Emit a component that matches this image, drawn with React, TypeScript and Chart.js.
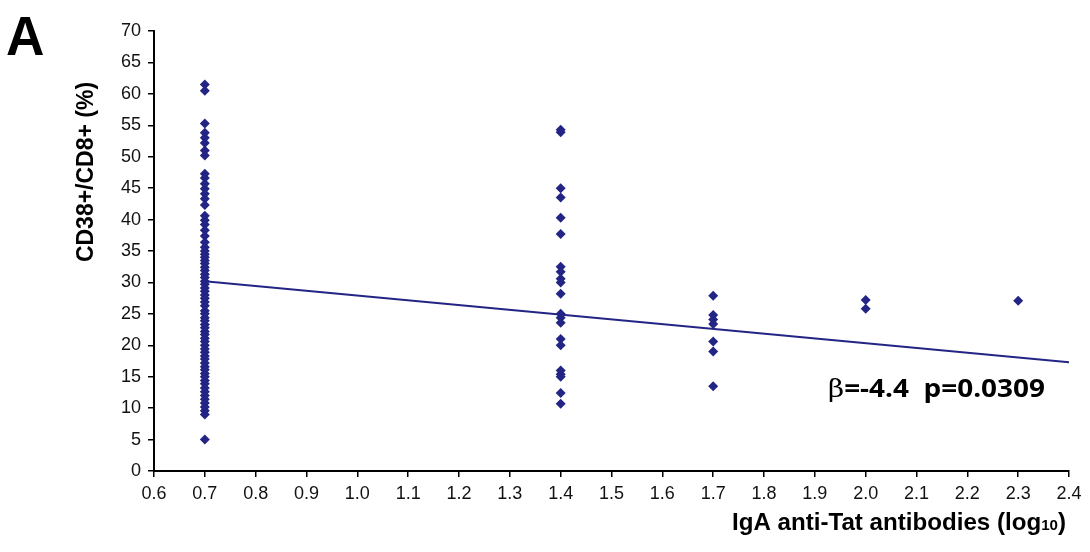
import React, { useEffect, useRef } from "react";
import { Chart, registerables } from "chart.js";

Chart.register(...registerables);

// ---- data ----
const X_TICKS = [0.6, 0.7, 0.8, 0.9, 1.0, 1.1, 1.2, 1.3, 1.4, 1.5, 1.6, 1.7, 1.8, 1.9, 2.0, 2.1, 2.2, 2.3, 2.4];
const Y_TICKS = [0, 5, 10, 15, 20, 25, 30, 35, 40, 45, 50, 55, 60, 65, 70];

const X_LEVELS = [0.7, 1.4, 1.7, 2.0, 2.3];

const Y_07 = [
  61.5, 60.5, 55.3, 53.8, 53.0, 52.2, 51.0, 50.2, 47.3, 46.6, 45.7, 44.9, 44.1, 43.3, 42.3,
  40.6, 39.9, 39.2, 38.3, 37.4, 36.4, 35.6, 35.0, 34.5, 34.0, 33.5, 33.0, 32.4, 31.9, 31.3,
  30.8, 30.2, 29.7, 29.1, 28.6, 28.0, 27.5, 26.9, 26.3, 25.5, 25.0, 24.4, 23.9, 23.3, 22.8,
  22.2, 21.7, 21.1, 20.6, 20.0, 19.4, 18.9, 18.3, 17.8, 17.2, 16.6, 16.1, 15.5, 15.0, 14.4,
  13.9, 13.2, 12.6, 12.0, 11.4, 10.8, 10.2, 9.6, 9.0, 5.0,
];
const Y_14 = [54.3, 53.9, 45.0, 43.5, 40.3, 37.7, 32.5, 31.7, 30.6, 30.0, 28.2, 25.0, 24.4, 23.6, 21.0, 20.0, 16.0, 15.4, 15.0, 12.4, 10.7];
const Y_17 = [27.9, 24.8, 24.1, 23.4, 20.6, 19.0, 13.5];
const Y_20 = [27.2, 25.8];
const Y_23 = [27.1];

const TREND_X = [0.7, 2.4];
const TREND_Y = [30.2, 17.3];

const PANEL_LABEL = "A";
const Y_TITLE = "CD38+/CD8+ (%)";
const X_TITLE_MAIN = "IgA anti-Tat antibodies (log";
const X_TITLE_SUB = "10";
const X_TITLE_END = ")";
const STAT_BETA = "β";
const STAT_TEXT = "=-4.4  p=0.0309";

const NAVY = "#232585";

const overlayPlugin = {
  id: "overlay",
  afterDraw(chart: any) {
    const ctx = chart.ctx as CanvasRenderingContext2D;
    ctx.save();
    ctx.fillStyle = "#000";
    // Panel letter
    ctx.font = "bold 56px 'Liberation Sans', Arial, sans-serif";
    ctx.textAlign = "left";
    ctx.textBaseline = "alphabetic";
    ctx.save();
    ctx.translate(6, 55);
    ctx.scale(0.95, 1);
    ctx.fillText(PANEL_LABEL, 0, 0);
    ctx.restore();

    // Y title (rotated)
    ctx.save();
    ctx.translate(93, 172);
    ctx.rotate(-Math.PI / 2);
    ctx.font = "bold 23px 'Liberation Sans', Arial, sans-serif";
    ctx.textAlign = "center";
    ctx.textBaseline = "alphabetic";
    ctx.fillText(Y_TITLE, 0, 0);
    ctx.restore();

    // X title, right aligned, with subscript
    const mainFont = "bold 24px 'Liberation Sans', sans-serif";
    const subFont = "bold 15px 'Liberation Sans', sans-serif";
    ctx.font = mainFont;
    const wMain = ctx.measureText(X_TITLE_MAIN).width;
    const wEnd = ctx.measureText(X_TITLE_END).width;
    ctx.font = subFont;
    const wSub = ctx.measureText(X_TITLE_SUB).width;
    const total = wMain + wSub + wEnd;
    const targetW = 334;
    const right = 1066;
    const sx = targetW / total;
    const baseY = 530;
    ctx.save();
    ctx.translate(right - targetW, baseY);
    ctx.scale(sx, 1);
    ctx.textAlign = "left";
    ctx.font = mainFont;
    ctx.fillText(X_TITLE_MAIN, 0, 0);
    ctx.font = subFont;
    ctx.fillText(X_TITLE_SUB, wMain, 0);
    ctx.font = mainFont;
    ctx.fillText(X_TITLE_END, wMain + wSub, 0);
    ctx.restore();

    // Statistics annotation
    const statFont = "bold 25px 'Open Sans', 'Liberation Sans', sans-serif";
    const betaFont = "25px 'DejaVu Serif', serif";
    ctx.font = betaFont;
    const wBeta = ctx.measureText(STAT_BETA).width;
    ctx.font = statFont;
    const wStat = ctx.measureText(STAT_TEXT).width;
    const statTarget = 217;
    const ssx = statTarget / (wBeta + wStat);
    ctx.save();
    ctx.translate(828, 397);
    ctx.scale(ssx, 1);
    ctx.textAlign = "left";
    ctx.font = betaFont;
    ctx.fillText(STAT_BETA, 0, 0);
    ctx.font = statFont;
    ctx.fillText(STAT_TEXT, wBeta, 0);
    ctx.restore();

    ctx.restore();
  },
};

export default function App() {
  const ref = useRef<HTMLCanvasElement | null>(null);

  useEffect(() => {
    if (!ref.current) return;
    const groups = [Y_07, Y_14, Y_17, Y_20, Y_23];
    const points: { x: number; y: number }[] = [];
    groups.forEach((ys, i) => ys.forEach((y) => points.push({ x: X_LEVELS[i], y })));
    const trend = TREND_X.map((x, i) => ({ x, y: TREND_Y[i] }));

    const tickFont = { family: "'Liberation Sans', Arial, sans-serif", size: 18 };

    const chart = new Chart(ref.current, {
      type: "scatter",
      data: {
        datasets: [
          {
            type: "line",
            data: trend,
            borderColor: NAVY,
            borderWidth: 2,
            pointRadius: 0,
            fill: false,
            order: 2,
          } as any,
          {
            data: points,
            pointStyle: "rectRot",
            pointRadius: 5,
            pointBackgroundColor: NAVY,
            pointBorderColor: NAVY,
            pointBorderWidth: 0,
            order: 1,
          },
        ],
      },
      options: {
        animation: false,
        responsive: false,
        events: [],
        layout: { padding: { left: 0, right: 21, top: 31, bottom: 0 } },
        plugins: { legend: { display: false }, tooltip: { enabled: false }, title: { display: false } },
        scales: {
          x: {
            type: "linear",
            min: 0.6,
            max: 2.4,
            afterFit: (s: any) => {
              s.height = 81;
            },
            afterBuildTicks: (s: any) => {
              s.ticks = X_TICKS.map((v) => ({ value: v }));
            },
            ticks: {
              color: "#111",
              font: tickFont,
              padding: 6,
              autoSkip: false,
              maxRotation: 0,
              callback: (v: any) => Number(v).toFixed(1),
            },
            grid: { display: true, drawOnChartArea: false, drawTicks: true, tickLength: 6, color: "#000", lineWidth: 1.5 },
            border: { display: true, color: "#000", width: 2 },
          },
          y: {
            type: "linear",
            min: 0,
            max: 70,
            afterFit: (s: any) => {
              s.width = 154;
            },
            afterBuildTicks: (s: any) => {
              s.ticks = Y_TICKS.map((v) => ({ value: v }));
            },
            ticks: {
              color: "#111",
              font: tickFont,
              padding: 7,
              autoSkip: false,
              callback: (v: any) => String(v),
            },
            grid: { display: true, drawOnChartArea: false, drawTicks: true, tickLength: 6, color: "#000", lineWidth: 1.5 },
            border: { display: true, color: "#000", width: 2 },
          },
        },
      },
      plugins: [overlayPlugin],
    });
    return () => chart.destroy();
  }, []);

  return (
    <div style={{ position: "absolute", left: 0, top: 0, width: 1090, height: 552, background: "#fff" }}>
      <canvas ref={ref} width={1090} height={552} style={{ display: "block" }} />
    </div>
  );
}
